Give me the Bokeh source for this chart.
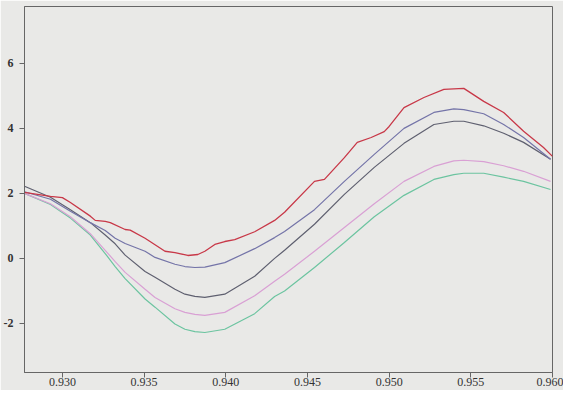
from bokeh.plotting import figure
from bokeh.models import Range1d, FixedTicker, PrintfTickFormatter
from bokeh.embed import file_html
from bokeh.resources import INLINE

# Red (noisy, top) series
x_red = [0.92768, 0.92927, 0.93000, 0.93049, 0.93171, 0.93201, 0.93262, 0.93293, 0.93384, 0.93415,
         0.93506, 0.93628, 0.93689, 0.93768, 0.93829, 0.93872, 0.93933, 0.93994, 0.94055, 0.94177,
         0.94299, 0.94360, 0.94543, 0.94604, 0.94726, 0.94805, 0.94890, 0.94970, 0.95000, 0.95091,
         0.95213, 0.95335, 0.95457, 0.95579, 0.95701, 0.95823, 0.95945, 0.96000]
y_red = [2.03, 1.91, 1.87, 1.72, 1.30, 1.17, 1.14, 1.10, 0.89, 0.87,
         0.62, 0.22, 0.18, 0.09, 0.12, 0.22, 0.43, 0.52, 0.58, 0.82,
         1.17, 1.42, 2.37, 2.43, 3.10, 3.57, 3.72, 3.90, 4.06, 4.64,
         4.95, 5.20, 5.23, 4.83, 4.49, 3.91, 3.41, 3.14]

# Smooth series share one x grid
x_smooth = [0.92768, 0.92927, 0.93049, 0.93171, 0.93262, 0.93323, 0.93384, 0.93506, 0.93567,
            0.93689, 0.93750, 0.93811, 0.93872, 0.93994, 0.94177, 0.94299, 0.94360, 0.94543,
            0.94726, 0.94909, 0.95091, 0.95274, 0.95396, 0.95457, 0.95579, 0.95701, 0.95823,
            0.95988]
y_blue = [2.05, 1.82, 1.45, 1.10, 0.86, 0.62, 0.46, 0.22, 0.03,
          -0.18, -0.25, -0.28, -0.27, -0.13, 0.30, 0.64, 0.83, 1.50,
          2.37, 3.20, 4.00, 4.49, 4.60, 4.58, 4.45, 4.12, 3.72,
          3.05]
y_dark = [2.22, 1.88, 1.50, 1.10, 0.72, 0.45, 0.10, -0.40, -0.58,
          -0.95, -1.10, -1.17, -1.20, -1.10, -0.55, 0.00, 0.25, 1.05,
          1.97, 2.80, 3.54, 4.12, 4.22, 4.22, 4.08, 3.85, 3.57,
          3.05]
y_pink = [2.00, 1.68, 1.28, 0.76, 0.25, -0.10, -0.43, -0.95, -1.20,
          -1.55, -1.66, -1.72, -1.75, -1.66, -1.15, -0.70, -0.49, 0.22,
          0.95, 1.68, 2.37, 2.83, 3.00, 3.02, 2.98, 2.85, 2.68,
          2.37]
y_green = [2.00, 1.66, 1.24, 0.72, 0.15, -0.25, -0.62, -1.25, -1.50,
           -2.02, -2.18, -2.25, -2.28, -2.18, -1.70, -1.17, -1.00, -0.28,
           0.49, 1.28, 1.94, 2.43, 2.58, 2.62, 2.62, 2.50, 2.37,
           2.12]

x_ticks = [0.930, 0.935, 0.940, 0.945, 0.950, 0.955, 0.960]
y_ticks = [-2, 0, 2, 4, 6]

bg = "#e9e9e7"
p = figure(width=563, height=390, output_backend="svg", toolbar_location=None,
           x_range=Range1d(0.92768, 0.9600), y_range=Range1d(-3.51, 7.75),
           min_border_left=21, min_border_right=11, min_border_top=6, min_border_bottom=18)
p.background_fill_color = bg
p.border_fill_color = bg
p.outline_line_color = "#666666"
p.outline_line_width = 1
p.grid.visible = False

p.line(x_smooth, y_green, line_color="#6cc4a0", line_width=1.2)
p.line(x_smooth, y_pink, line_color="#d9a0d4", line_width=1.2)
p.line(x_smooth, y_dark, line_color="#5f6070", line_width=1.2)
p.line(x_smooth, y_blue, line_color="#7474a8", line_width=1.2)
p.line(x_red, y_red, line_color="#c83848", line_width=1.3)

for ax in (p.xaxis[0], p.yaxis[0]):
    ax.axis_line_color = "#666666"
    ax.major_tick_line_color = "#666666"
    ax.major_tick_out = 5
    ax.major_tick_in = 0
    ax.minor_tick_out = 0
    ax.minor_tick_in = 0
    ax.major_label_text_font = "Times New Roman"
    ax.major_label_text_color = "#333333"
    ax.major_label_text_font_size = "12px"

p.xaxis.major_label_standoff = 0
p.xaxis.ticker = FixedTicker(ticks=x_ticks)
p.xaxis.formatter = PrintfTickFormatter(format="%.3f")
p.yaxis.ticker = FixedTicker(ticks=y_ticks)
p.yaxis.formatter = PrintfTickFormatter(format="%d")
p.yaxis.major_label_text_font_style = "bold"
p.yaxis.major_label_standoff = 6

open("out.html", "w").write(file_html(p, INLINE))
